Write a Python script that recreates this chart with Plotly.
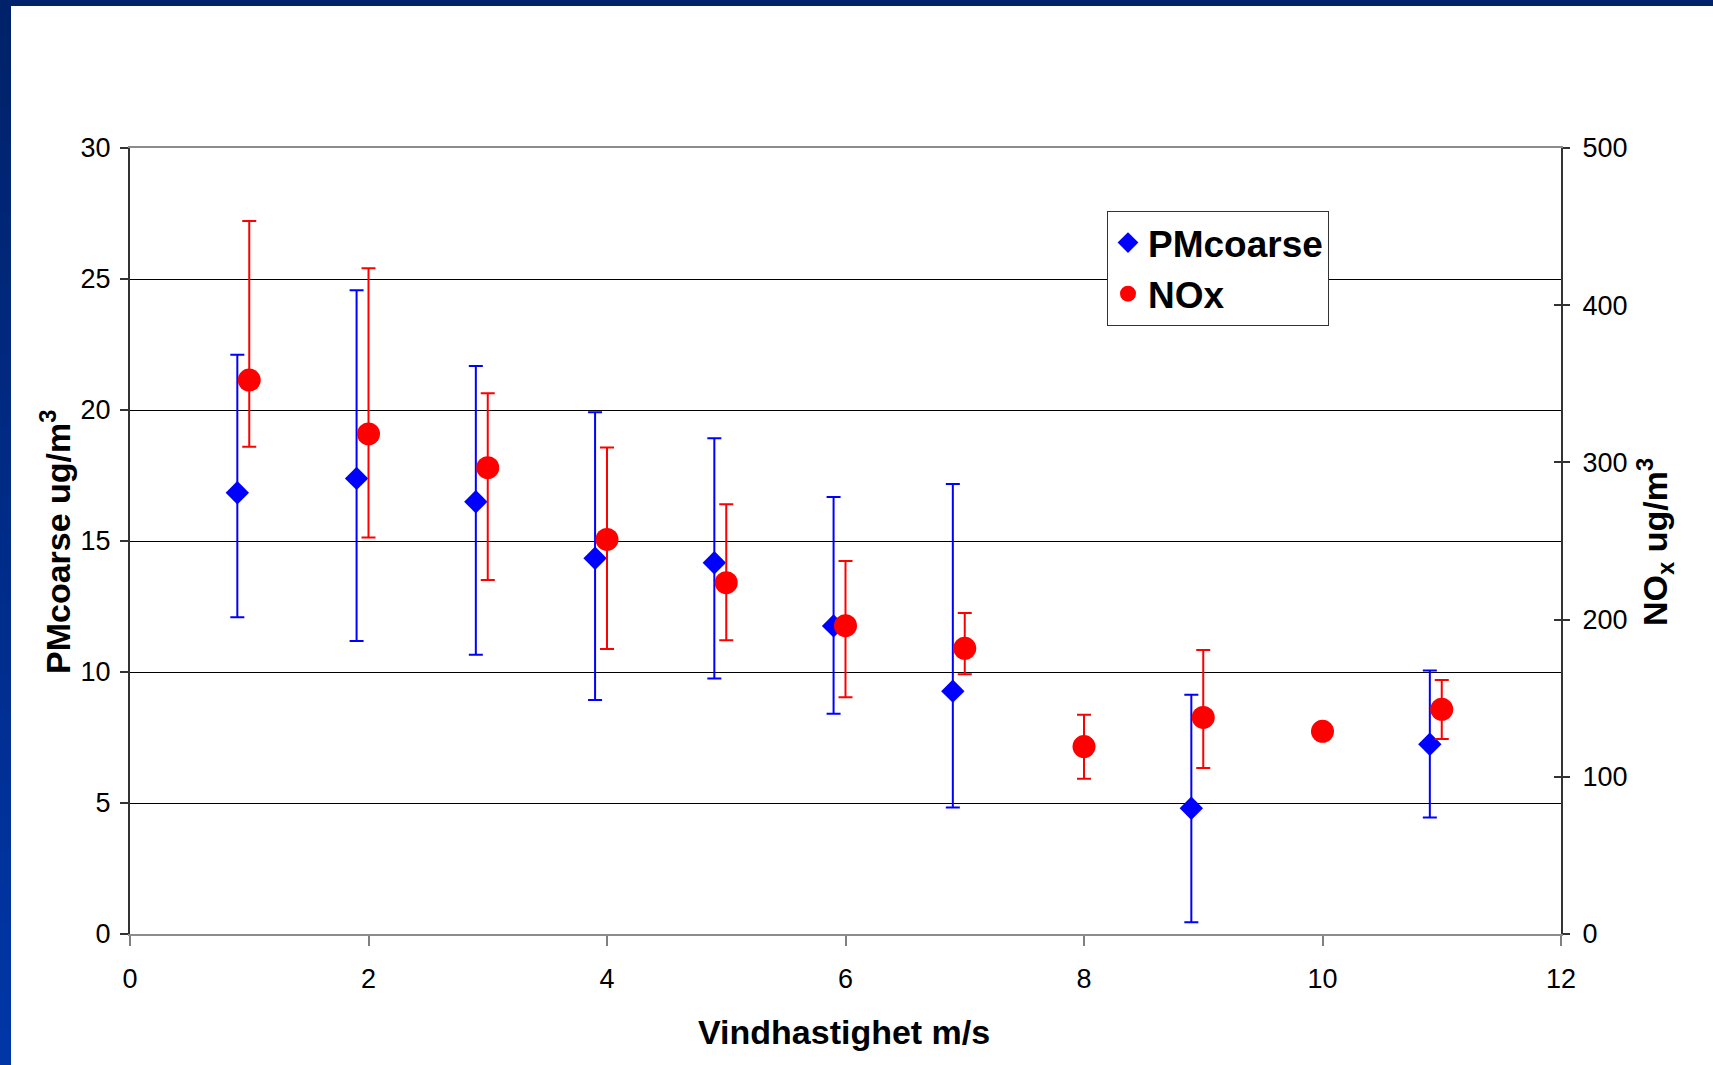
import plotly.graph_objects as go

# ---------------- data ----------------
pm_x = [0.9, 1.9, 2.9, 3.9, 4.9, 5.9, 6.9, 8.9, 10.9]
pm_val = [16.84, 17.39, 16.50, 14.34, 14.17, 11.76, 9.27, 4.80, 7.24]
pm_hi = [22.11, 24.57, 21.68, 19.91, 18.92, 16.68, 17.18, 9.13, 10.06]
pm_lo = [12.09, 11.18, 10.66, 8.93, 9.75, 8.41, 4.83, 0.45, 4.45]

nox_x = [1, 2, 3, 4, 5, 6, 7, 8, 9, 10, 11]
nox_val = [352.4, 318.1, 296.6, 251.0, 223.5, 196.1, 181.7, 119.2, 137.8, 128.9, 142.9]
nox_hi = [453.6, 423.5, 344.0, 309.4, 273.3, 237.3, 204.2, 139.5, 180.7, None, 161.6]
nox_lo = [310.0, 252.3, 225.2, 181.3, 186.8, 150.6, 165.2, 98.8, 105.6, None, 124.0]

x_ticks = [0, 2, 4, 6, 8, 10, 12]
y_left_ticks = [0, 5, 10, 15, 20, 25, 30]
y_right_ticks = [0, 100, 200, 300, 400, 500]

# ---------------- layout geometry ----------------
W, H = 1713, 1065
L, R, T, B = 130, 1561, 148, 934
FONT = "Liberation Sans, Arial, sans-serif"


def px_x(p):
    return (p - L) / (R - L)


def px_y(p):
    return (B - p) / (B - T)


def up(v, h):
    return [None if hh is None else hh - vv for vv, hh in zip(v, h)]


def down(v, lo):
    return [None if ll is None else vv - ll for vv, ll in zip(v, lo)]


fig = go.Figure()

fig.add_trace(go.Scatter(
    x=pm_x, y=pm_val, name="PMcoarse", mode="markers",
    marker=dict(symbol="diamond", size=18, color="#0000FF"),
    error_y=dict(type="data", symmetric=False, array=up(pm_val, pm_hi),
                 arrayminus=down(pm_val, pm_lo), color="#0000FF",
                 thickness=2, width=7),
))
fig.add_trace(go.Scatter(
    x=nox_x, y=nox_val, name="NOx", mode="markers", yaxis="y2",
    marker=dict(symbol="circle", size=23, color="#FF0000"),
    error_y=dict(type="data", symmetric=False, array=up(nox_val, nox_hi),
                 arrayminus=down(nox_val, nox_lo), color="#FF0000",
                 thickness=2, width=7),
))
# helper trace for the inward half of the right axis ticks
fig.add_trace(go.Scatter(x=[None], y=[None], yaxis="y3", showlegend=False,
                         hoverinfo="skip"))

fig.update_layout(
    width=W, height=H,
    margin=dict(l=L, r=W - R, t=T, b=H - B, pad=0),
    paper_bgcolor="white", plot_bgcolor="white",
    font=dict(family=FONT, size=27, color="black"),
    showlegend=True,
    legend=dict(x=px_x(1107), y=px_y(211), xanchor="left", yanchor="top",
                bgcolor="white", bordercolor="#333333", borderwidth=1,
                font=dict(family=FONT, size=37, color="black", weight="bold"),
                itemsizing="trace", tracegroupgap=0),
    xaxis=dict(range=[0, 12], tickvals=x_ticks, ticks="outside", ticklen=10,
               tickwidth=2, tickcolor="#808080", showgrid=False, zeroline=False,
               showline=True, linecolor="#8c8c8c", linewidth=2, mirror=True,
               ticklabelstandoff=10, tickfont=dict(size=27)),
    yaxis=dict(range=[0, 30], tickvals=y_left_ticks, ticks="outside", ticklen=8,
               tickwidth=1.5, tickcolor="#333333", showgrid=True,
               gridcolor="#000000", gridwidth=1.2, zeroline=False,
               showline=True, linecolor="#333333", linewidth=2,
               ticklabelstandoff=4, tickfont=dict(size=27)),
    yaxis2=dict(range=[0, 500], tickvals=y_right_ticks, overlaying="y",
                side="right", ticks="outside", ticklen=7, tickwidth=1.5,
                tickcolor="#333333", showgrid=False, zeroline=False,
                showline=True, linecolor="#333333", linewidth=2,
                ticklabelstandoff=7, tickfont=dict(size=27)),
    yaxis3=dict(range=[0, 500], tickvals=y_right_ticks, overlaying="y",
                side="right", ticks="inside", ticklen=7, tickwidth=1.5,
                tickcolor="#333333", showgrid=False, zeroline=False,
                showline=False, showticklabels=False),
)

# axis titles
fig.add_annotation(text="Vindhastighet m/s", xref="paper", yref="paper",
                   x=px_x(844), y=px_y(1032), showarrow=False,
                   xanchor="center", yanchor="middle",
                   font=dict(family=FONT, size=34, color="black", weight="bold"))
fig.add_annotation(text="PMcoarse ug/m<sup>3</sup>", xref="paper", yref="paper",
                   x=px_x(55), y=px_y(542), showarrow=False, textangle=-90,
                   xanchor="center", yanchor="middle",
                   font=dict(family=FONT, size=34, color="black", weight="bold"))
fig.add_annotation(text="NO<sub>x</sub> ug/m<sup>3</sup>", xref="paper", yref="paper",
                   x=px_x(1655), y=px_y(542), showarrow=False, textangle=-90,
                   xanchor="center", yanchor="middle",
                   font=dict(family=FONT, size=34, color="black", weight="bold"))

# slide frame: dark blue bar at top and gradient bar on the left
shapes = []
shapes.append(dict(type="rect", xref="paper", yref="paper",
                   x0=px_x(0), x1=px_x(W), y0=px_y(0), y1=px_y(6),
                   fillcolor="#00236b", line=dict(width=0), layer="above"))
n = 30
c0 = (0x00, 0x22, 0x6a)
c1 = (0x00, 0x36, 0xa6)
for i in range(n):
    t = i / (n - 1)
    col = "rgb(%d,%d,%d)" % tuple(round(a + (b - a) * t) for a, b in zip(c0, c1))
    y0 = H * i / n
    y1 = H * (i + 1) / n + 1
    shapes.append(dict(type="rect", xref="paper", yref="paper",
                       x0=px_x(0), x1=px_x(11), y0=px_y(y0), y1=px_y(y1),
                       fillcolor=col, line=dict(width=0), layer="above"))
fig.update_layout(shapes=shapes)

fig.write_html("out.html")
